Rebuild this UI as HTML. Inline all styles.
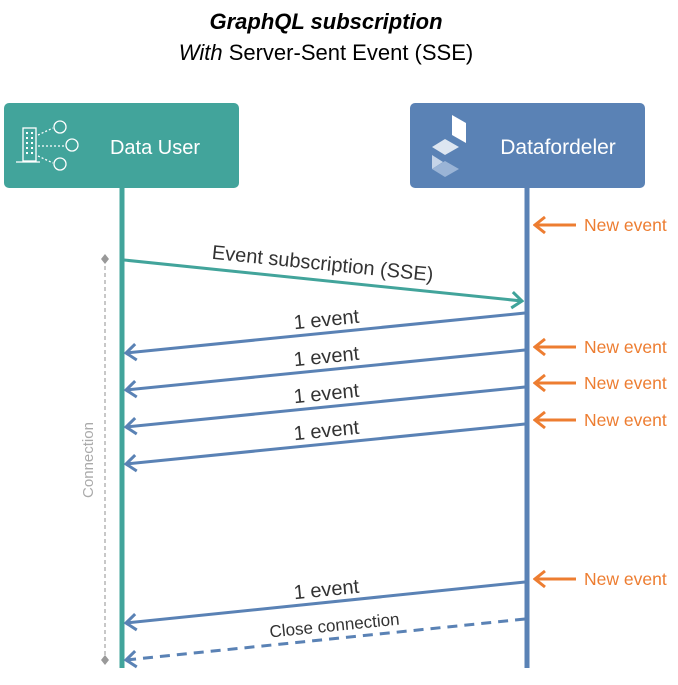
<!DOCTYPE html>
<html><head><meta charset="utf-8"><style>
body{margin:0;background:#fff;width:678px;height:680px;overflow:hidden}
text{font-family:"Liberation Sans",sans-serif}
</style></head><body>
<svg width="678" height="680" viewBox="0 0 678 680" xmlns="http://www.w3.org/2000/svg">
<defs>
<marker id="ab" markerWidth="14" markerHeight="20" refX="12" refY="10" orient="auto" markerUnits="userSpaceOnUse"><path d="M2,2 L12,10 L2,18" fill="none" stroke="#5a82b5" stroke-width="3"/></marker>
<marker id="ag" markerWidth="14" markerHeight="20" refX="12" refY="10" orient="auto" markerUnits="userSpaceOnUse"><path d="M2,2 L12,10 L2,18" fill="none" stroke="#3fa39a" stroke-width="3"/></marker>
<marker id="ao" markerWidth="14" markerHeight="20" refX="12" refY="10" orient="auto" markerUnits="userSpaceOnUse"><path d="M2,2 L12,10 L2,18" fill="none" stroke="#ed7d31" stroke-width="3"/></marker>
</defs>
<text x="326" y="29" text-anchor="middle" font-size="22" font-weight="bold" font-style="italic" fill="#000">GraphQL subscription</text>
<text x="326" y="60" text-anchor="middle" font-size="22" fill="#000"><tspan font-style="italic">With</tspan> Server-Sent Event (SSE)</text>
<rect x="4" y="103" width="235" height="85" rx="5" fill="#42a49b"/>
<rect x="410" y="103" width="235" height="85" rx="5" fill="#5a82b5"/>
<g stroke="#fff" fill="none" stroke-width="1.3">
<rect x="23" y="128" width="13" height="33"/>
<line x1="16" y1="162" x2="40" y2="162"/>
<path d="M26,133h2M31,133h2M26,138h2M31,138h2M26,143h2M31,143h2M26,148h2M31,148h2M26,153h2M31,153h2" stroke-width="2"/>
<circle cx="60" cy="127" r="6"/><circle cx="72" cy="145" r="6"/><circle cx="60" cy="164" r="6"/>
<path d="M38,135 L53,128 M38,146 L66,146 M38,156 L53,163" stroke-dasharray="2 2"/>
</g>
<path d="M452,115 L466,123 L466,143 L452,135Z" fill="#fff"/>
<path d="M432,147 L445,139 L459,147 L445,155Z" fill="#dde6f1"/>
<path d="M432,155 L443,162 L432,169Z" fill="#c5d4e8"/>
<path d="M432,169 L445,161 L459,169 L445,177Z" fill="#9ab4d6"/>
<text x="155" y="154" text-anchor="middle" font-size="20" fill="#fff">Data User</text>
<text x="558" y="154" text-anchor="middle" font-size="21" fill="#fff">Datafordeler</text>
<line x1="122" y1="188" x2="122" y2="668" stroke="#42a49b" stroke-width="5"/>
<line x1="527" y1="188" x2="527" y2="668" stroke="#5a82b5" stroke-width="5"/>
<line x1="105" y1="259" x2="105" y2="660" stroke="#aaa" stroke-width="1.3" stroke-dasharray="4 3"/>
<path d="M105,254 L109,259 L105,264 L101,259Z M105,655 L109,660 L105,665 L101,660Z" fill="#999"/>
<text transform="translate(93,460) rotate(-90)" text-anchor="middle" font-size="15" fill="#aaa">Connection</text>
<line x1="124" y1="260" x2="522" y2="301" stroke="#42a49b" stroke-width="3" marker-end="url(#ag)"/>
<text transform="translate(322,270) rotate(5.8)" text-anchor="middle" font-size="20" fill="#333">Event subscription (SSE)</text>
<g stroke="#5a82b5" stroke-width="3">
<line x1="525" y1="313" x2="126" y2="353" marker-end="url(#ab)"/>
<line x1="525" y1="350" x2="126" y2="390" marker-end="url(#ab)"/>
<line x1="525" y1="387" x2="126" y2="427" marker-end="url(#ab)"/>
<line x1="525" y1="424" x2="126" y2="464" marker-end="url(#ab)"/>
<line x1="525" y1="582" x2="126" y2="623" marker-end="url(#ab)"/>
<line x1="525" y1="619" x2="126" y2="660" stroke-dasharray="10 7" marker-end="url(#ab)"/>
</g>
<g font-size="20" fill="#333" text-anchor="middle">
<text transform="translate(327,326) rotate(-5.7)">1 event</text>
<text transform="translate(327,363) rotate(-5.7)">1 event</text>
<text transform="translate(327,400) rotate(-5.7)">1 event</text>
<text transform="translate(327,437) rotate(-5.7)">1 event</text>
<text transform="translate(327,596) rotate(-5.7)">1 event</text>
<text transform="translate(335,631) rotate(-5.7)" font-size="17">Close connection</text>
</g>
<g stroke="#ed7d31" stroke-width="3">
<line x1="576" y1="225" x2="535" y2="225" marker-end="url(#ao)"/>
<line x1="576" y1="347" x2="535" y2="347" marker-end="url(#ao)"/>
<line x1="576" y1="383" x2="535" y2="383" marker-end="url(#ao)"/>
<line x1="576" y1="420" x2="535" y2="420" marker-end="url(#ao)"/>
<line x1="576" y1="579" x2="535" y2="579" marker-end="url(#ao)"/>
</g>
<g font-size="17.5" fill="#ed7d31">
<text x="584" y="231">New event</text>
<text x="584" y="353">New event</text>
<text x="584" y="389">New event</text>
<text x="584" y="426">New event</text>
<text x="584" y="585">New event</text>
</g>
</svg>
</body></html>
